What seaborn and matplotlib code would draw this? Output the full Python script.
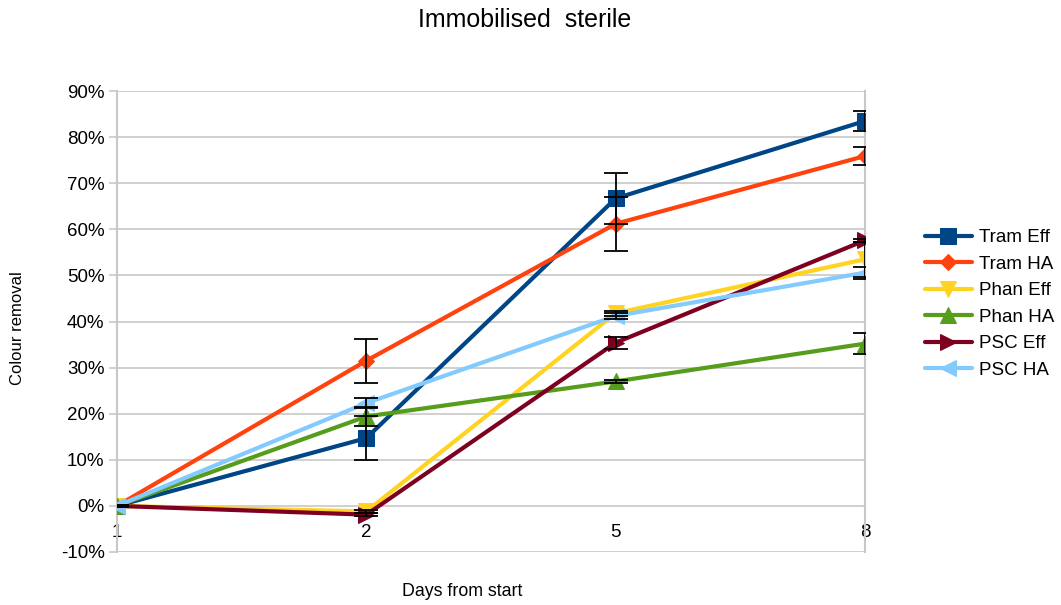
import matplotlib
matplotlib.use("Agg")
import matplotlib.pyplot as plt
import seaborn as sns
import pandas as pd

days = ["1", "2", "5", "8"]
series_names = ["Tram Eff", "Tram HA", "Phan Eff", "Phan HA", "PSC Eff", "PSC HA"]
tram_eff = [0.0, 14.7, 66.7, 83.5]
tram_ha = [0.0, 31.5, 61.2, 75.9]
phan_eff = [0.0, -1.2, 41.8, 53.5]
phan_ha = [0.0, 19.4, 27.0, 35.2]
psc_eff = [0.0, -1.9, 35.4, 57.6]
psc_ha = [0.0, 22.3, 41.2, 50.6]
tram_eff_err = [0.3, 4.8, 5.6, 2.2]
tram_ha_err = [0.3, 4.8, 5.8, 2.0]
phan_eff_err = [0.2, 0.3, 0.5, 3.8]
phan_ha_err = [0.2, 2.0, 0.3, 2.3]
psc_eff_err = [0.2, 0.3, 1.3, 0.3]
psc_ha_err = [0.2, 1.0, 0.6, 1.3]
y_ticks = [-10, 0, 10, 20, 30, 40, 50, 60, 70, 80, 90]

values = [tram_eff, tram_ha, phan_eff, phan_ha, psc_eff, psc_ha]
errors = [tram_eff_err, tram_ha_err, phan_eff_err, phan_ha_err, psc_eff_err, psc_ha_err]
colors = ["#004586", "#ff420e", "#ffd320", "#579d1c", "#7e0021", "#83caff"]
markers = ["s", "D", "v", "^", ">", "<"]
msizes = [11, 8, 11, 11, 11, 11]

rows = []
for name, vals, errs in zip(series_names, values, errors):
    for d, v, e in zip(days, vals, errs):
        rows.append({"Day": d, "Value": v, "Err": e, "Series": name})
df = pd.DataFrame(rows)

sns.set_theme(style="white")
plt.rcParams["font.family"] = ["Liberation Sans", "DejaVu Sans"]
plt.rcParams["text.color"] = "black"

fig = plt.figure(figsize=(10.61, 6.05), dpi=100)
ax = fig.add_axes([117 / 1061, 1 - 552 / 605, (865 - 117) / 1061, (552 - 91) / 605])

for name, c, m, ms in zip(series_names, colors, markers, msizes):
    sub = df[df["Series"] == name]
    sns.lineplot(data=sub, x="Day", y="Value", ax=ax, color=c, marker=m,
                 markersize=ms, markeredgecolor=c, linewidth=3, label=name,
                 errorbar=None, zorder=3)

for name in series_names:
    sub = df[df["Series"] == name]
    ax.errorbar(sub["Day"], sub["Value"], yerr=sub["Err"], fmt="none",
                ecolor="black", elinewidth=1.3, capsize=8.5, capthick=1.3, zorder=4)

ax.set_xlim(0, 3)
ax.set_ylim(-10, 90)
ax.set_yticks(y_ticks)
ax.set_yticklabels([f"{t}%" for t in y_ticks])
ax.yaxis.grid(True, color="#c8c8c8", linewidth=1.2)
ax.xaxis.grid(False)
ax.spines["bottom"].set_position(("data", 0))
for s in ["top", "bottom"]:
    ax.spines[s].set_visible(False)
for s in ["left", "right"]:
    ax.spines[s].set_visible(True)
    ax.spines[s].set_color("#c8c8c8")
    ax.spines[s].set_linewidth(1.5)
ax.tick_params(axis="y", which="both", left=True, length=6, color="#c8c8c8",
               width=1.2, labelsize=13.5, labelcolor="black", pad=3)
ax.tick_params(axis="x", bottom=False, length=0, labelsize=13.5, pad=13,
               labelcolor="black")
for t in ax.get_xticklabels():
    t.set_bbox(dict(facecolor="white", edgecolor="none", pad=1.5))
ax.set_xlabel("")
ax.set_ylabel("")

handles, labels = ax.get_legend_handles_labels()
ax.get_legend().remove()
fig.legend(handles, labels, loc="center left", bbox_to_anchor=(908 / 1061, 1 - 304 / 605),
           frameon=False, fontsize=13.5, handlelength=2.5, labelspacing=0.5,
           handletextpad=0.4, labelcolor="black")

fig.text(525 / 1061, 1 - 20 / 605, "Immobilised  sterile", ha="center", va="center",
         fontsize=18, color="black")
fig.text(18 / 1061, 1 - 328 / 605, "Colour removal", ha="center", va="center",
         rotation=90, fontsize=12, color="black")
fig.text(462 / 1061, 1 - 591 / 605, "Days from start", ha="center", va="center",
         fontsize=12.8, color="black")

fig.savefig("out.png", dpi=100)
